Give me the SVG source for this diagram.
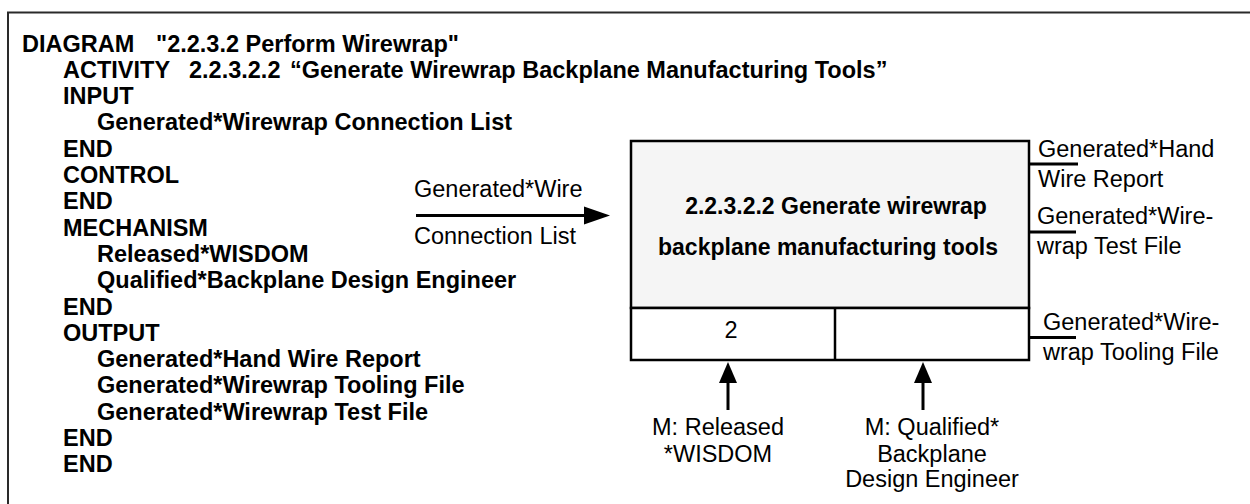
<svg xmlns="http://www.w3.org/2000/svg" width="1250" height="504" viewBox="0 0 1250 504">
<style>
.code{font-family:"Liberation Sans",Arial,sans-serif;font-weight:bold;font-size:23.5px;fill:#000}
.lbl{font-family:"Liberation Sans",Arial,sans-serif;font-size:23.5px;fill:#000}
.ttl{font-family:"Liberation Sans",Arial,sans-serif;font-weight:bold;font-size:23px;fill:#000;text-anchor:middle}
.mid{text-anchor:middle}
.box{stroke:#000;stroke-width:2.5}
.wire{stroke:#000;stroke-width:3;fill:none}
.head{fill:#000;stroke:none}
</style>
<rect width="1250" height="504" fill="#fff"/>
<path d="M8,504 V12.5 H1250" fill="none" stroke="#2a2a2a" stroke-width="2"/>
<g id="code-listing">
<text class="code" x="22" y="51.5">DIAGRAM<tspan x="156">"2.2.3.2 Perform Wirewrap"</tspan></text>
<text class="code" x="63" y="77.8">ACTIVITY<tspan x="189">2.2.3.2.2</tspan><tspan x="290">“Generate Wirewrap Backplane Manufacturing Tools”</tspan></text>
<text class="code" x="63" y="104.1">INPUT</text>
<text class="code" x="97" y="130.4">Generated*Wirewrap Connection List</text>
<text class="code" x="63" y="156.7">END</text>
<text class="code" x="63" y="183">CONTROL</text>
<text class="code" x="63" y="209.3">END</text>
<text class="code" x="63" y="235.6">MECHANISM</text>
<text class="code" x="97" y="261.9">Released*WISDOM</text>
<text class="code" x="97" y="288.2">Qualified*Backplane Design Engineer</text>
<text class="code" x="63" y="314.5">END</text>
<text class="code" x="63" y="340.8">OUTPUT</text>
<text class="code" x="97" y="367.1">Generated*Hand Wire Report</text>
<text class="code" x="97" y="393.4">Generated*Wirewrap Tooling File</text>
<text class="code" x="97" y="419.7">Generated*Wirewrap Test File</text>
<text class="code" x="63" y="446">END</text>
<text class="code" x="63" y="472.3">END</text>
</g>
<g id="activity-box">
<rect class="box" x="631" y="141" width="398" height="167" fill="#f5f5f5"/>
<rect class="box" x="631" y="308" width="398" height="52" fill="#fff"/>
<line class="box" x1="835" y1="308" x2="835" y2="360"/>
<text class="ttl" x="836" y="214">2.2.3.2.2 Generate wirewrap</text>
<text class="ttl" x="828" y="255">backplane manufacturing tools</text>
<text class="lbl mid" x="731" y="338">2</text>
</g>
<g id="connectors">
<line class="wire" x1="416" y1="215.5" x2="586" y2="215.5"/>
<polygon class="head" points="584,206.5 610,215.5 584,224.5"/>
<line class="wire" x1="1030" y1="164" x2="1078" y2="164"/>
<line class="wire" x1="1030" y1="232" x2="1076" y2="232"/>
<line class="wire" x1="1030" y1="337.5" x2="1076" y2="337.5"/>
<line class="wire" x1="728" y1="381" x2="728" y2="410"/>
<polygon class="head" points="719,383 728,362 737,383"/>
<line class="wire" x1="923" y1="381" x2="923" y2="410"/>
<polygon class="head" points="914,383 923,362 932,383"/>
</g>
<g id="label-input">
<text class="lbl" x="414" y="197">Generated*Wire</text>
<text class="lbl" x="414" y="243.5">Connection List</text>
</g>
<g id="label-output-hand">
<text class="lbl" x="1038" y="157">Generated*Hand</text>
<text class="lbl" x="1038" y="187">Wire Report</text>
</g>
<g id="label-output-test">
<text class="lbl" x="1037" y="224">Generated*Wire-</text>
<text class="lbl" x="1037" y="253.5">wrap Test File</text>
</g>
<g id="label-output-tooling">
<text class="lbl" x="1043" y="329.5">Generated*Wire-</text>
<text class="lbl" x="1043" y="359.5">wrap Tooling File</text>
</g>
<g id="label-mech-wisdom">
<text class="lbl mid" x="718" y="435">M: Released</text>
<text class="lbl mid" x="718" y="462">*WISDOM</text>
</g>
<g id="label-mech-engineer">
<text class="lbl mid" x="932" y="435">M: Qualified*</text>
<text class="lbl mid" x="932" y="462">Backplane</text>
<text class="lbl mid" x="932" y="487">Design Engineer</text>
</g>
</svg>
